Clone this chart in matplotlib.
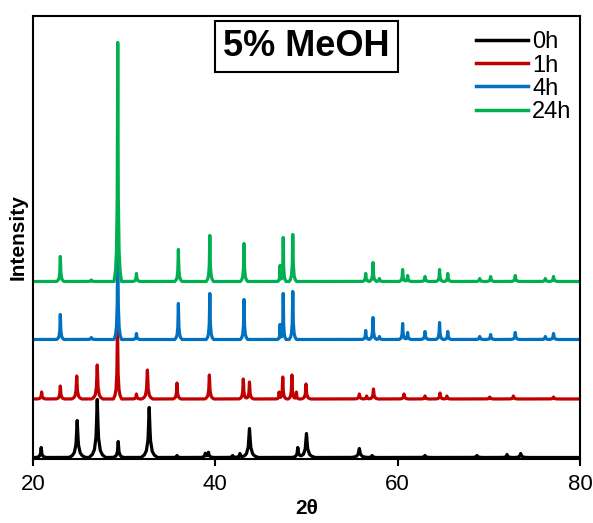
import numpy as np
import matplotlib
matplotlib.use("Agg")
import matplotlib.pyplot as plt

plt.rcParams['font.family'] = ['Liberation Sans', 'DejaVu Sans']

# series labels, colours and baseline offsets (arbitrary intensity units)
labels = ['0h', '1h', '4h', '24h']
colors = ['#000000', '#C00000', '#0070C0', '#00B050']
offsets = [1.5, 60, 119.5, 177.5]

# peak tables: 2theta, height above baseline, half width
pos_0h = [20.9, 24.85, 27.05, 29.35, 32.75, 35.8, 38.9, 39.25, 41.9, 42.7, 43.75,
          49.05, 50.0, 55.8, 57.2, 63.0, 68.7, 72.0, 73.5]
hgt_0h = [10, 37, 58, 16, 50, 2, 4, 5, 2, 4, 29, 10, 24, 9, 2, 2, 2, 3, 4]
wid_0h = [0.55, 0.9, 0.9, 0.6, 0.9, 0.5, 0.6, 0.6, 0.6, 0.6, 0.95,
          0.65, 0.95, 0.9, 0.6, 0.7, 0.7, 0.6, 0.7]

pos_1h = [20.95, 23.0, 24.8, 27.05, 29.27, 31.35, 32.55, 35.8, 39.35, 43.07, 43.75,
          47.0, 47.4, 48.4, 48.9, 49.95, 55.8, 56.6, 57.35, 60.7, 63.0, 64.65,
          65.4, 70.1, 72.7, 77.1]
hgt_1h = [7, 13, 23, 34, 75, 5, 29, 16, 24, 20, 17, 7, 22, 24, 7, 15, 5, 3, 10,
          5, 3, 6, 3, 2, 3, 2]
wid_1h = [0.45, 0.45, 0.55, 0.6, 0.45, 0.4, 0.6, 0.45, 0.5, 0.45, 0.45, 0.3,
          0.4, 0.4, 0.3, 0.5, 0.5, 0.4, 0.5, 0.5, 0.45, 0.45, 0.4, 0.5, 0.5, 0.5]

pos_4h = [23.0, 26.4, 29.3, 31.35, 35.95, 39.4, 43.15, 47.1, 47.45, 48.5, 56.5,
          57.3, 58.0, 60.55, 61.1, 63.0, 64.6, 65.5, 69.0, 70.2, 72.9, 76.2, 77.1]
hgt_4h = [25, 2, 100, 6, 36, 46, 40, 15, 46, 48, 9, 22, 3, 16, 7, 8, 17, 8, 3,
          5, 7, 3, 6]
wid_4h = [0.4, 0.5, 0.4, 0.4, 0.4, 0.4, 0.4, 0.25, 0.3, 0.4, 0.4, 0.4, 0.4,
          0.4, 0.4, 0.45, 0.4, 0.4, 0.45, 0.45, 0.45, 0.45, 0.45]

pos_24h = pos_4h
hgt_24h = [25, 1.5, 239, 8, 32, 46, 38, 16, 44, 47, 8, 19, 3, 12, 6, 5, 12, 8,
           3, 5, 6, 3, 5]
wid_24h = wid_4h

peaks = [(pos_0h, hgt_0h, wid_0h), (pos_1h, hgt_1h, wid_1h),
         (pos_4h, hgt_4h, wid_4h), (pos_24h, hgt_24h, wid_24h)]

# peak outline used to draw every reflection
shape_t = [-1, -0.6, -0.35, -0.15, -0.05, 0, 0.05, 0.15, 0.35, 0.6, 1]
shape_v = [0, 0.05, 0.13, 0.35, 0.75, 1, 0.75, 0.35, 0.13, 0.05, 0]

tt = np.arange(20, 80.001, 0.01)

fig = plt.figure(figsize=(5.93, 5.23), dpi=100)
ax = fig.add_axes([0.0556, 0.1224, 0.9224, 0.847])

for (p, h, w), off, c, lab in zip(peaks, offsets, colors, labels):
    y = np.full_like(tt, off)
    for pi, hi, wi in zip(p, h, w):
        y += hi * np.interp((tt - pi) / wi, shape_t, shape_v)
    ax.plot(tt, y, color=c, lw=2.3, label=lab, solid_joinstyle='round')

ax.set_xlim(20, 80)
ax.set_ylim(0, 443)
ax.set_xticks([20, 40, 60, 80])
ax.set_yticks([])
ax.tick_params(axis='x', direction='out', length=5, width=1.5, labelsize=16, pad=6)
for s in ax.spines.values():
    s.set_linewidth(1.5)

ax.set_xlabel('2θ', fontsize=15, fontweight='bold', labelpad=3)
ax.set_ylabel('Intensity', fontsize=15, fontweight='bold', labelpad=4)

ax.text(0.5, 0.932, '5% MeOH', transform=ax.transAxes, ha='center', va='center',
        fontsize=26, fontweight='bold',
        bbox=dict(boxstyle='square,pad=0.22', fc='white', ec='black', lw=1.5))

leg = ax.legend(loc='upper right', frameon=False, fontsize=17, handlelength=2.2,
                handletextpad=0.2, labelspacing=0.05, borderaxespad=0.25,
                bbox_to_anchor=(1.013, 1.0))
for line in leg.get_lines():
    line.set_linewidth(2.5)

fig.savefig('out.png', dpi=100)
